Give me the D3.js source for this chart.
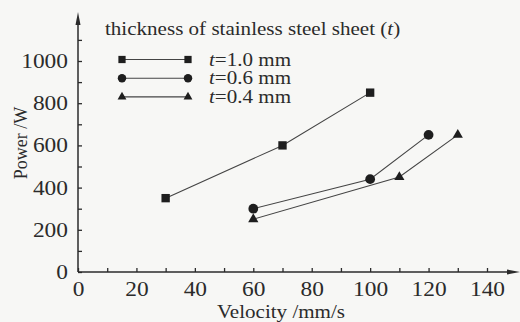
<!DOCTYPE html>
<html>
<head>
<meta charset="utf-8">
<script src="https://cdn.jsdelivr.net/npm/d3@7"></script>
<style>
  html, body { margin: 0; padding: 0; background: #f7f7f5; }
  svg { display: block; font-family: "Liberation Serif", "DejaVu Serif", serif; }
</style>
</head>
<body>
<div id="chart"></div>
<script>
// data
const velocity10 = [30, 70, 100];
const power10 = [350, 600, 850];
const velocity06 = [60, 100, 120];
const power06 = [300, 440, 650];
const velocity04 = [60, 110, 130];
const power04 = [250, 450, 650];
const seriesNames = ["1.0", "0.6", "0.4"];
const xTicks = [0, 20, 40, 60, 80, 100, 120, 140];
const yTicks = [0, 200, 400, 600, 800, 1000];

const W = 520, H = 322;
const ink = "#2b2b2b";
const sx = 1.17; // scanned figure's type is a bit wide

const svg = d3.select("#chart").append("svg")
  .attr("width", W).attr("height", H);

// text placed at (px,py) and stretched horizontally
function label(parent, px, py, size, anchor) {
  return parent.append("text")
    .attr("transform", `translate(${px},${py}) scale(${sx},1)`)
    .attr("text-anchor", anchor || "start")
    .attr("font-size", size).attr("fill", ink);
}

const x = d3.scaleLinear().domain([0, 140]).range([78, 487]);
const y = d3.scaleLinear().domain([0, 1000]).range([272, 61]);

// axes, ticks point inward
const gx = svg.append("g").attr("transform", `translate(0,${y(0)})`)
  .call(d3.axisBottom(x).tickValues(xTicks).tickSize(-4).tickPadding(10).tickFormat(d3.format("d")));
const gxMinor = svg.append("g").attr("transform", `translate(0,${y(0)})`)
  .call(d3.axisBottom(x).tickValues(d3.range(10, 150, 20)).tickSize(-4).tickFormat(""));
const gy = svg.append("g").attr("transform", `translate(${x(0)},0)`)
  .call(d3.axisLeft(y).tickValues(yTicks).tickSize(-4).tickPadding(10).tickFormat(d3.format("d")));
const gyMinor = svg.append("g").attr("transform", `translate(${x(0)},0)`)
  .call(d3.axisLeft(y).tickValues(d3.range(100, 1200, 200)).tickSize(-4).tickFormat(""));

[gx, gxMinor, gy, gyMinor].forEach(g => {
  g.select(".domain").remove();
  g.selectAll(".tick line").attr("stroke", ink).attr("stroke-width", 1.3);
  g.selectAll(".tick text").attr("fill", ink).attr("font-size", 20)
    .attr("font-family", "Liberation Serif, serif");
});
gx.selectAll(".tick text").attr("transform", `scale(${sx},1)`);
gy.selectAll(".tick text").attr("x", -10 / sx).attr("transform", `scale(${sx},1)`);

// axis lines with arrows
svg.append("line").attr("x1", x(0)).attr("x2", 508).attr("y1", y(0)).attr("y2", y(0))
  .attr("stroke", ink).attr("stroke-width", 1.5);
svg.append("path").attr("d", `M520,${y(0)} L507,${y(0) - 2.5} L507,${y(0) + 2.5} Z`).attr("fill", ink);
svg.append("line").attr("x1", x(0)).attr("x2", x(0)).attr("y1", y(0)).attr("y2", 24)
  .attr("stroke", ink).attr("stroke-width", 1.5);
svg.append("path").attr("d", `M${x(0)},12 L${x(0) - 2.5},25 L${x(0) + 2.5},25 Z`).attr("fill", ink);

// axis titles
label(svg, 281, 318, 18, "middle").text("Velocity /mm/s");
svg.append("text").attr("transform", "translate(27,143) rotate(-90)")
  .attr("text-anchor", "middle").attr("font-size", 18).attr("fill", ink).text("Power /W");

// series
const series = [
  { name: seriesNames[0], xs: velocity10, ys: power10, shape: d3.symbolSquare, size: 70 },
  { name: seriesNames[1], xs: velocity06, ys: power06, shape: d3.symbolCircle, size: 75 },
  { name: seriesNames[2], xs: velocity04, ys: power04, shape: d3.symbolTriangle, size: 45 }
];

const line = d3.line().x(d => x(d[0])).y(d => y(d[1]));

series.forEach(s => {
  const pts = s.xs.map((v, i) => [v, s.ys[i]]);
  svg.append("path").attr("d", line(pts)).attr("fill", "none")
    .attr("stroke", "#444").attr("stroke-width", 1.1);
  svg.selectAll(null).data(pts).enter().append("path")
    .attr("d", d3.symbol().type(s.shape).size(s.size))
    .attr("transform", d => `translate(${x(d[0])},${y(d[1])})`)
    .attr("fill", "#1e1e1e");
});

// legend
const legend = svg.append("g");
const title = label(legend, 105, 35, 18);
title.append("tspan").text("thickness of stainless steel sheet (");
title.append("tspan").attr("font-style", "italic").text("t");
title.append("tspan").text(")");

series.forEach((s, i) => {
  const ly = 59.5 + i * 18.7;
  legend.append("line").attr("x1", 122).attr("x2", 188).attr("y1", ly).attr("y2", ly)
    .attr("stroke", "#444").attr("stroke-width", 1.1);
  [122, 188].forEach(lx => {
    legend.append("path").attr("d", d3.symbol().type(s.shape).size(s.size * 0.75))
      .attr("transform", `translate(${lx},${ly})`).attr("fill", "#1e1e1e");
  });
  const t = label(legend, 209, ly + 6, 18);
  t.append("tspan").attr("font-style", "italic").text("t");
  t.append("tspan").text("=" + s.name + " mm");
});
</script>
</body>
</html>
